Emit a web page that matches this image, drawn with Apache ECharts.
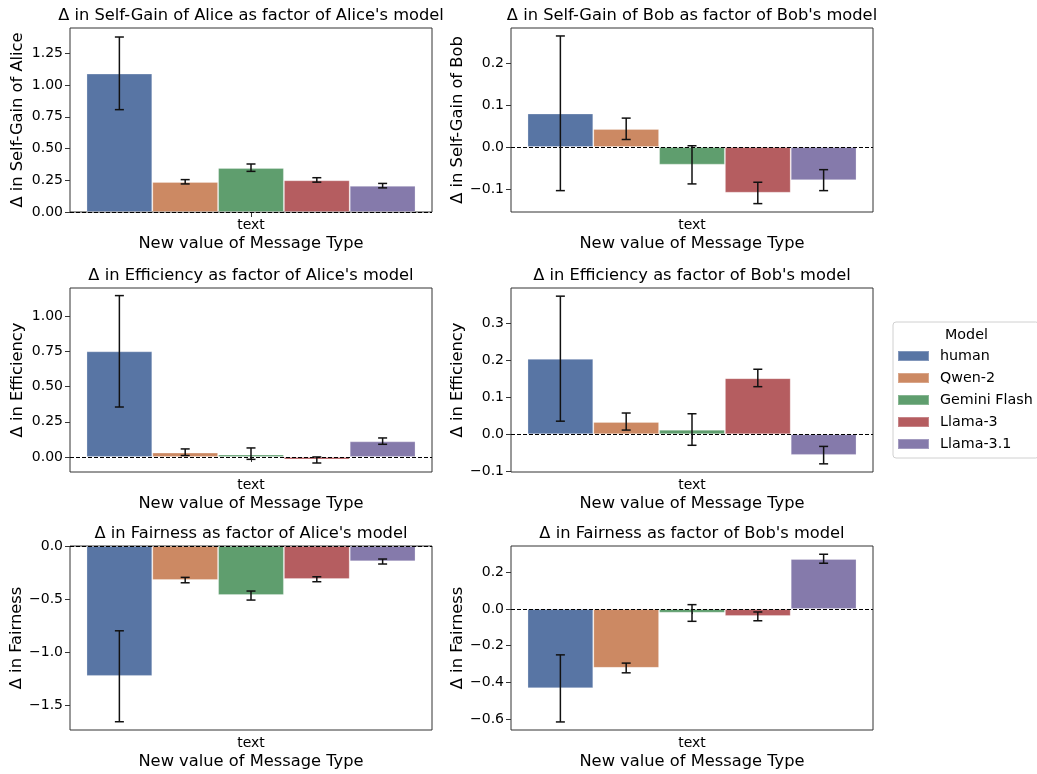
<!DOCTYPE html>
<html>
<head>
<meta charset="utf-8">
<script src="https://cdn.jsdelivr.net/npm/echarts@6/dist/echarts.min.js"></script>
<style>
  html, body { margin: 0; padding: 0; background: #fff; }
  #main { width: 1037px; height: 774px; }
</style>
</head>
<body>
<div id="main"></div>
<script>
// data -------------------------------------------------------------------------
var models = ['human', 'Qwen-2', 'Gemini Flash', 'Llama-3', 'Llama-3.1'];
var categories = ['text'];
var colors = ['#5875a4', '#cc8963', '#5f9e6e', '#b55d60', '#857aab'];

var sgAlice = [1.09, 0.237, 0.347, 0.25, 0.206];
var sgAliceCI = [[0.806, 1.378], [0.221, 0.255], [0.32, 0.378], [0.235, 0.27], [0.19, 0.225]];
var sgBob = [0.080, 0.043, -0.042, -0.109, -0.079];
var sgBobCI = [[-0.104, 0.265], [0.018, 0.069], [-0.088, 0.003], [-0.135, -0.084], [-0.104, -0.054]];
var effAlice = [0.751, 0.031, 0.017, -0.019, 0.111];
var effAliceCI = [[0.355, 1.147], [0.01, 0.057], [-0.017, 0.064], [-0.043, 0.0], [0.09, 0.135]];
var effBob = [0.203, 0.033, 0.012, 0.151, -0.056];
var effBobCI = [[0.035, 0.372], [0.011, 0.057], [-0.03, 0.055], [0.128, 0.175], [-0.080, -0.033]];
var fairAlice = [-1.226, -0.321, -0.463, -0.312, -0.145];
var fairAliceCI = [[-1.658, -0.80], [-0.347, -0.296], [-0.51, -0.425], [-0.337, -0.29], [-0.170, -0.123]];
var fairBob = [-0.432, -0.321, -0.020, -0.038, 0.273];
var fairBobCI = [[-0.616, -0.250], [-0.348, -0.295], [-0.067, 0.024], [-0.064, -0.016], [0.250, 0.299]];

var ticks1 = [0, 0.25, 0.5, 0.75, 1.0, 1.25];
var ticks2 = [-0.1, 0, 0.1, 0.2];
var ticks3 = [0, 0.25, 0.5, 0.75, 1.0];
var ticks4 = [-0.1, 0, 0.1, 0.2, 0.3];
var ticks5 = [-1.5, -1.0, -0.5, 0];
var ticks6 = [-0.6, -0.4, -0.2, 0, 0.2];

var panels = [
    { title: "Δ in Self-Gain of Alice as factor of Alice's model", yName: 'Δ in Self-Gain of Alice', vals: sgAlice, ci: sgAliceCI, ticks: ticks1, min: 0, max: 1.449, dec: 2 },
    { title: "Δ in Self-Gain of Bob as factor of Bob's model", yName: 'Δ in Self-Gain of Bob', vals: sgBob, ci: sgBobCI, ticks: ticks2, min: -0.155, max: 0.284, dec: 1 },
    { title: "Δ in Efficiency as factor of Alice's model", yName: 'Δ in Efficiency', vals: effAlice, ci: effAliceCI, ticks: ticks3, min: -0.107, max: 1.201, dec: 2 },
    { title: "Δ in Efficiency as factor of Bob's model", yName: 'Δ in Efficiency', vals: effBob, ci: effBobCI, ticks: ticks4, min: -0.102, max: 0.394, dec: 1 },
    { title: "Δ in Fairness as factor of Alice's model", yName: 'Δ in Fairness', vals: fairAlice, ci: fairAliceCI, ticks: ticks5, min: -1.736, max: 0, dec: 1 },
    { title: "Δ in Fairness as factor of Bob's model", yName: 'Δ in Fairness', vals: fairBob, ci: fairBobCI, ticks: ticks6, min: -0.660, max: 0.344, dec: 1 }
];

// layout ----------------------------------------------------------------------
var lefts = [70, 511];
var tops = [28, 288, 546];
var gw = 362, gh = 184;
var gapFrac = 0.091;
var font = 'DejaVu Sans';

var myChart = echarts.init(document.getElementById('main'));

var grids = [], xAxes = [], yAxes = [], titles = [], series = [];

panels.forEach(function (p, k) {
    var left = lefts[k % 2], top = tops[Math.floor(k / 2)];
    grids.push({ left: left, top: top, width: gw, height: gh, show: true, borderColor: '#333', borderWidth: 1, containLabel: false });
    titles.push({
        text: p.title, left: left + gw / 2, top: top - 20, textAlign: 'center', padding: 0,
        textStyle: { fontFamily: font, fontSize: 16.3, fontWeight: 'normal', color: '#000' }
    });
    xAxes.push({
        type: 'category', gridIndex: k, data: categories,
        name: 'New value of Message Type', nameLocation: 'middle', nameGap: 24,
        nameTextStyle: { fontFamily: font, fontSize: 16.3, color: '#000' },
        axisLine: { show: false },
        axisTick: { show: true, alignWithLabel: true, length: 5, lineStyle: { color: '#333' } },
        axisLabel: { fontFamily: font, fontSize: 14, color: '#000', margin: 6 },
        splitLine: { show: false }
    });
    yAxes.push({
        type: 'value', gridIndex: k, min: p.min, max: p.max,
        name: p.yName, nameLocation: 'middle', nameGap: 44,
        nameTextStyle: { fontFamily: font, fontSize: 16.3, color: '#000' },
        axisLine: { show: false },
        axisTick: { show: true, length: 5, customValues: p.ticks, lineStyle: { color: '#333' } },
        axisLabel: {
            fontFamily: font, fontSize: 14, color: '#000', margin: 7, customValues: p.ticks,
            formatter: function (v) { return v.toFixed(p.dec).replace('-', '\u2212'); }
        },
        splitLine: { show: false }
    });
    models.forEach(function (m, i) {
        var s = {
            type: 'bar', name: m, xAxisIndex: k, yAxisIndex: k,
            data: [p.vals[i]], barGap: 0, barCategoryGap: (gapFrac * 100) + '%',
            itemStyle: { color: colors[i], borderColor: 'rgba(255,255,255,0.25)', borderWidth: 1 },
            emphasis: { disabled: true }
        };
        if (i === models.length - 1) {
            s.z = 3;
            s.markLine = {
                silent: true, symbol: 'none', label: { show: false },
                lineStyle: { type: 'dashed', color: '#000', width: 1 },
                data: [{ yAxis: 0 }]
            };
        }
        series.push(s);
    });
    // error bars
    series.push({
        type: 'custom', xAxisIndex: k, yAxisIndex: k, z: 10, silent: true,
        encode: { x: 0, y: [1, 2] },
        data: p.ci.map(function (c, i) { return [0, c[0], c[1], i]; }),
        renderItem: function (params, api) {
            var band = api.size([1, 0])[0];
            var i = api.value(3);
            var lo = api.coord([api.value(0), api.value(1)]);
            var hi = api.coord([api.value(0), api.value(2)]);
            var x = lo[0] + band * (-0.5 + gapFrac / 2 + (i + 0.5) * (1 - gapFrac) / models.length);
            var cap = 4.5;
            var st = { stroke: '#111', lineWidth: 1.5 };
            return {
                type: 'group',
                children: [
                    { type: 'line', shape: { x1: x, y1: lo[1], x2: x, y2: hi[1] }, style: st },
                    { type: 'line', shape: { x1: x - cap, y1: lo[1], x2: x + cap, y2: lo[1] }, style: st },
                    { type: 'line', shape: { x1: x - cap, y1: hi[1], x2: x + cap, y2: hi[1] }, style: st }
                ]
            };
        }
    });
});

var option = {
    animation: false,
    title: titles,
    grid: grids,
    xAxis: xAxes,
    yAxis: yAxes,
    legend: {
        data: models, orient: 'vertical', left: 893, top: 322,
        padding: [27, 6, 7, 4], itemWidth: 31, itemHeight: 10, itemGap: 8, icon: 'rect',
        borderColor: '#d0d0d0', borderWidth: 1, borderRadius: 3, selectedMode: false,
        textStyle: { fontFamily: font, fontSize: 14.3, color: '#000', padding: [0, 0, 0, 6] }
    },
    graphic: [{
        type: 'text', left: 945, top: 328,
        style: { text: 'Model', fontFamily: font, fontSize: 14.3, fill: '#000' }
    }],
    series: series
};

option && myChart.setOption(option);
</script>
</body>
</html>
